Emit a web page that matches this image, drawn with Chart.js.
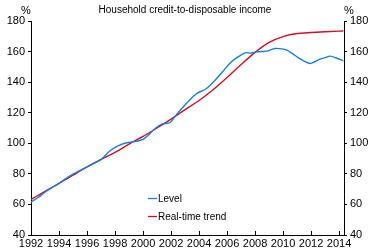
<!DOCTYPE html>
<html>
<head>
<meta charset="utf-8">
<script src="https://cdn.jsdelivr.net/npm/chart.js@4/dist/chart.umd.min.js"></script>
<style>
  html, body { margin: 0; padding: 0; background: #fff; }
  #wrap { width: 372px; height: 251px; }
</style>
</head>
<body>
<div id="wrap"><canvas id="creditChart" width="372" height="251"></canvas></div>
<script>
// Household credit-to-disposable income, %
const levelYears = [1992, 1992.5, 1993, 1993.5, 1994, 1994.5, 1995, 1995.5, 1996, 1996.5, 1997, 1997.3, 1997.6, 1997.9,
  1998.25, 1998.7, 1999.3, 1999.6, 2000, 2000.4, 2000.86, 2001.33, 2001.93, 2002.3, 2002.88, 2003.3, 2003.83, 2004.43,
  2004.8, 2005.26, 2005.7, 2006.2, 2006.7, 2007.3, 2007.7, 2008.1, 2008.5, 2008.95, 2009.4, 2009.9, 2010.26, 2010.7,
  2011.1, 2011.5, 2011.93, 2012.3, 2012.64, 2013.0, 2013.36, 2013.8, 2014.3];
const levelValues = [61.5, 64.5, 68, 71, 73.8, 77, 79.8, 82.2, 84.6, 86.8, 89.3, 92, 94.8, 96.7,
  98.5, 100, 101, 101.5, 102.5, 105.5, 109.7, 112.5, 113.6, 117.8, 123.9, 128, 132.6, 135.2,
  138, 142.4, 147, 152.4, 156, 159.2, 159, 159.8, 160, 160.5, 162, 161.8, 161, 158.5,
  155.9, 153.8, 152.2, 153.5, 155, 156, 157, 155.8, 153.9];

const trendYears = [1992, 1993, 1994, 1995, 1996, 1997, 1998, 1999, 2000, 2001, 2002, 2003, 2004, 2005,
  2006, 2007, 2008, 2009, 2010, 2011, 2012, 2013, 2014, 2014.3];
const trendValues = [63.3, 68.5, 73.8, 79.2, 84.6, 89.5, 94, 99.5, 104.5, 110, 115.8, 122, 128, 135,
  143, 151.5, 159.5, 166, 169.8, 171.8, 172.5, 173, 173.4, 173.5];

const yTicks = [40, 60, 80, 100, 120, 140, 160, 180];
const xTicks = [1992, 1994, 1996, 1998, 2000, 2002, 2004, 2006, 2008, 2010, 2012, 2014];

const blue = '#1a7fd4';
const red = '#cc1122';
const font = { family: 'Liberation Sans, Arial, sans-serif', size: 11 };

function pairs(xs, ys) {
  return xs.map((x, i) => ({ x: x, y: ys[i] }));
}

// title, % labels, inward x ticks and legend drawn on top
const decorations = {
  id: 'decorations',
  afterDraw(chart) {
    const ctx = chart.ctx;
    const area = chart.chartArea;
    const xs = chart.scales.x;
    ctx.save();
    ctx.strokeStyle = '#000';
    ctx.lineWidth = 1;
    xTicks.forEach(t => {
      const px = Math.round(xs.getPixelForValue(t)) + 0.5;
      ctx.beginPath();
      ctx.moveTo(px, area.bottom);
      ctx.lineTo(px, area.bottom - 4);
      ctx.stroke();
    });
    ctx.fillStyle = '#000';
    ctx.font = '10px ' + font.family;
    ctx.textAlign = 'center';
    ctx.textBaseline = 'middle';
    ctx.fillText('Household credit-to-disposable income', 185, 10);
    ctx.font = '11px ' + font.family;
    ctx.fillText('%', 26, 11);
    ctx.fillText('%', 349, 11);

    const items = [
      { label: 'Level', color: chart.data.datasets[0].borderColor, y: 198 },
      { label: 'Real-time trend', color: chart.data.datasets[1].borderColor, y: 216 }
    ];
    ctx.textAlign = 'left';
    ctx.font = '10px ' + font.family;
    items.forEach(it => {
      ctx.strokeStyle = it.color;
      ctx.lineWidth = 1.3;
      ctx.beginPath();
      ctx.moveTo(148, it.y + 0.5);
      ctx.lineTo(157, it.y + 0.5);
      ctx.stroke();
      ctx.fillStyle = '#000';
      ctx.fillText(it.label, 158, it.y + 1);
    });
    ctx.restore();
  }
};

const creditCtx = document.getElementById('creditChart').getContext('2d');
new Chart(creditCtx, {
  type: 'line',
  data: {
    datasets: [{
      label: 'Level',
      data: pairs(levelYears, levelValues),
      borderColor: blue,
      borderWidth: 1.4,
      pointRadius: 0,
      tension: 0.3,
      yAxisID: 'y'
    }, {
      label: 'Real-time trend',
      data: pairs(trendYears, trendValues),
      borderColor: red,
      borderWidth: 1.4,
      pointRadius: 0,
      cubicInterpolationMode: 'monotone',
      yAxisID: 'y'
    }]
  },
  options: {
    responsive: false,
    animation: false,
    devicePixelRatio: 1,
    layout: { padding: { top: 21, left: 0, right: 0, bottom: 0 } },
    plugins: {
      legend: { display: false },
      tooltip: { enabled: false },
      title: { display: false }
    },
    scales: {
      x: {
        type: 'linear',
        min: 1992,
        max: 2014.35,
        afterFit: s => { s.height = 16; },
        afterBuildTicks: s => { s.ticks = xTicks.map(v => ({ value: v })); },
        ticks: { font: font, color: '#000', padding: 2, maxRotation: 0, autoSkip: false,
          callback: v => String(v) },
        grid: { display: false, drawTicks: false },
        border: { display: true, color: '#000', width: 1 }
      },
      y: {
        position: 'left',
        min: 40,
        max: 180,
        afterFit: s => { s.width = 31; },
        afterBuildTicks: s => { s.ticks = yTicks.map(v => ({ value: v })); },
        ticks: { font: font, color: '#000', padding: 3 },
        grid: { drawOnChartArea: false, tickLength: 3, color: '#000' },
        border: { display: true, color: '#000', width: 1 }
      },
      y2: {
        position: 'right',
        min: 40,
        max: 180,
        afterFit: s => { s.width = 28; },
        afterBuildTicks: s => { s.ticks = yTicks.map(v => ({ value: v })); },
        ticks: { font: font, color: '#000', padding: 3 },
        grid: { drawOnChartArea: false, tickLength: 3, color: '#000' },
        border: { display: true, color: '#000', width: 1 }
      }
    }
  },
  plugins: [decorations]
});
</script>
</body>
</html>
